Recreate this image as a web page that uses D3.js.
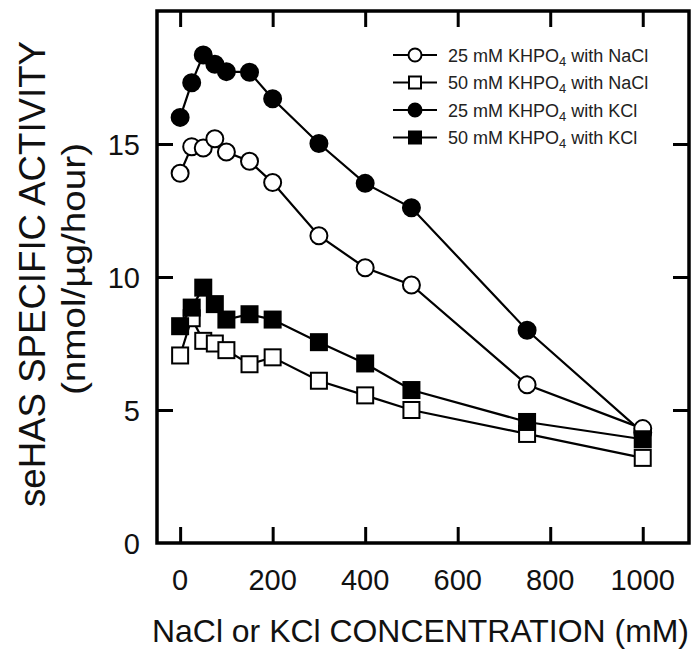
<!DOCTYPE html>
<html>
<head>
<meta charset="utf-8">
<script src="https://cdn.jsdelivr.net/npm/d3@7.9.0/dist/d3.min.js"></script>
<style>
  body { margin: 0; background: #fff; }
  svg { display: block; font-family: "Liberation Sans", Arial, sans-serif; }
</style>
</head>
<body>
<svg width="696" height="653"></svg>
<script>
// salt concentration (mM)
const conc = [0, 25, 50, 75, 100, 150, 200, 300, 400, 500, 750, 1000];

// specific activity (nmol/ug/hour)
const naCl25 = [13.9, 14.9, 14.85, 15.2, 14.7, 14.35, 13.55, 11.55, 10.35, 9.7, 5.95, 4.3];
const naCl50 = [7.05, 8.45, 7.6, 7.5, 7.25, 6.72, 6.98, 6.1, 5.55, 5.0, 4.1, 3.2];
const kCl25 = [16.0, 17.3, 18.35, 18.0, 17.72, 17.7, 16.7, 15.02, 13.52, 12.6, 8.0, 4.15];
const kCl50 = [8.15, 8.85, 9.6, 8.98, 8.4, 8.6, 8.4, 7.55, 6.75, 5.75, 4.55, 3.9];

const xTicks = [0, 200, 400, 600, 800, 1000];
const yTicks = [0, 5, 10, 15];

const series = [
  { name: "25 mM KHPO", sub: "4", tail: " with NaCl", values: naCl25, shape: "circle", filled: false },
  { name: "50 mM KHPO", sub: "4", tail: " with NaCl", values: naCl50, shape: "square", filled: false },
  { name: "25 mM KHPO", sub: "4", tail: " with KCl", values: kCl25, shape: "circle", filled: true },
  { name: "50 mM KHPO", sub: "4", tail: " with KCl", values: kCl50, shape: "square", filled: true }
];
// draw order so the filled squares sit on top, as in the figure
const drawOrder = [2, 0, 1, 3];

const svg = d3.select("svg");
const pLeft = 157, pRight = 689, pTop = 11, pBottom = 543;

const x = d3.scaleLinear().domain([-50, 1100]).range([pLeft, pRight]);
const y = d3.scaleLinear().domain([0, 20]).range([pBottom, pTop]);

// ticks point inward on all four sides
const tickLen = 16;
const g = svg.append("g");

g.append("g")
  .attr("transform", `translate(0,${pBottom})`)
  .call(d3.axisTop(x).tickValues(xTicks).tickSize(tickLen).tickFormat(""))
  .call(a => a.select(".domain").remove());
g.append("g")
  .attr("transform", `translate(0,${pTop})`)
  .call(d3.axisBottom(x).tickValues(xTicks).tickSize(tickLen).tickFormat(""))
  .call(a => a.select(".domain").remove());
g.append("g")
  .attr("transform", `translate(${pLeft},0)`)
  .call(d3.axisRight(y).tickValues(yTicks.filter(d => d > 0)).tickSize(tickLen).tickFormat(""))
  .call(a => a.select(".domain").remove());
g.append("g")
  .attr("transform", `translate(${pRight},0)`)
  .call(d3.axisLeft(y).tickValues(yTicks.filter(d => d > 0)).tickSize(tickLen).tickFormat(""))
  .call(a => a.select(".domain").remove());
g.selectAll(".tick line").attr("stroke", "#000").attr("stroke-width", 3);

// frame
svg.append("rect")
  .attr("x", pLeft).attr("y", pTop)
  .attr("width", pRight - pLeft).attr("height", pBottom - pTop)
  .attr("fill", "none").attr("stroke", "#000").attr("stroke-width", 3.5);

// tick labels
svg.append("g").selectAll("text").data(xTicks).join("text")
  .attr("x", d => x(d)).attr("y", 590)
  .attr("text-anchor", "middle")
  .attr("font-size", 29).attr("fill", "#111")
  .text(d => d);
svg.append("g").selectAll("text").data(yTicks).join("text")
  .attr("x", 140).attr("y", d => y(d) + 10.5)
  .attr("text-anchor", "end")
  .attr("font-size", 29).attr("fill", "#111")
  .text(d => d);

// axis titles
svg.append("text")
  .attr("x", 152).attr("y", 642)
  .attr("font-size", 32).attr("fill", "#111")
  .attr("textLength", 537).attr("lengthAdjust", "spacingAndGlyphs")
  .text("NaCl or KCl CONCENTRATION (mM)");
svg.append("text")
  .attr("transform", "translate(45,274) rotate(-90)")
  .attr("text-anchor", "middle")
  .attr("font-size", 36).attr("fill", "#111")
  .attr("textLength", 466).attr("lengthAdjust", "spacingAndGlyphs")
  .text("seHAS SPECIFIC ACTIVITY");
svg.append("text")
  .attr("transform", "translate(85,269) rotate(-90)")
  .attr("text-anchor", "middle")
  .attr("font-size", 34).attr("fill", "#111")
  .attr("textLength", 252).attr("lengthAdjust", "spacingAndGlyphs")
  .text("(nmol/µg/hour)");

const line = d3.line().x(d => x(d[0])).y(d => y(d[1]));

function marker(sel, shape, filled, size) {
  if (shape === "circle") {
    sel.append("circle").attr("r", size / 2);
  } else {
    sel.append("rect")
      .attr("x", -size / 2).attr("y", -size / 2)
      .attr("width", size).attr("height", size);
  }
  sel.selectAll("circle,rect")
    .attr("fill", filled ? "#000" : "#fff")
    .attr("stroke", "#000").attr("stroke-width", 2);
}

drawOrder.forEach(i => {
  const s = series[i];
  const pts = conc.map((c, k) => [c, s.values[k]]);
  const sg = svg.append("g");
  sg.append("path")
    .attr("d", line(pts))
    .attr("fill", "none").attr("stroke", "#000").attr("stroke-width", 2.2);
  sg.selectAll("g.pt").data(pts).join("g")
    .attr("class", "pt")
    .attr("transform", d => `translate(${x(d[0])},${y(d[1])})`)
    .each(function () { marker(d3.select(this), s.shape, s.filled, s.shape === "circle" ? 17 : 16); });
});

// legend
const lg = svg.append("g");
series.forEach((s, i) => {
  const cy = 55 + i * 27.5;
  const row = lg.append("g").attr("transform", `translate(415,${cy})`);
  row.append("line").attr("x1", -22).attr("x2", 22)
    .attr("stroke", "#000").attr("stroke-width", 2);
  marker(row, s.shape, s.filled, s.shape === "circle" ? 13 : 12);
  const t = row.append("text")
    .attr("x", 33).attr("y", 6.5)
    .attr("font-size", 18).attr("fill", "#222");
  t.append("tspan").text(s.name);
  t.append("tspan").attr("font-size", 13).attr("dy", 4).text(s.sub);
  t.append("tspan").attr("dy", -4).text(s.tail);
});
</script>
</body>
</html>
